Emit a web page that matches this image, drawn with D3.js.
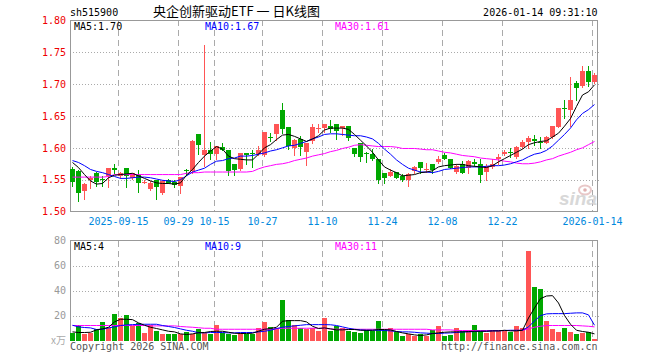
<!DOCTYPE html>
<html><head><meta charset="utf-8">
<script src="https://cdn.jsdelivr.net/npm/d3@7/dist/d3.min.js"></script>
<style>
body{margin:0;background:#fff}
svg text{font-family:"DejaVu Sans Mono","Liberation Mono",monospace;font-size:10px}
</style>
</head><body>
<svg id="c" width="660" height="360"></svg>
<script>
// ---------- data ----------
const code = "sh515900";
const title = "央企创新驱动ETF 一 日K线图";
const stamp = "2026-01-14 09:31:10";
const dateTickIndex = [8, 18, 24, 32, 42, 52, 62, 72, 87];
const dateTickLabel = ["2025-09-15","09-29","10-15","10-27","11-10","11-24","12-08","12-22","2026-01-14"];
const priceTicks = [1.50,1.55,1.60,1.65,1.70,1.75,1.80];
const volTicks = [20,40,60,80];

const open = [1.567,1.563,1.532,1.549,1.560,1.551,1.556,1.569,1.556,1.569,
1.553,1.558,1.545,1.535,1.549,1.529,1.549,1.546,1.540,1.565,
1.564,1.621,1.588,1.597,1.590,1.602,1.596,1.575,1.567,1.592,
1.592,1.591,1.588,1.617,1.621,1.660,1.632,1.600,1.614,1.593,
1.611,1.630,1.631,1.635,1.638,1.631,1.635,1.600,1.608,1.592,
1.590,1.583,1.560,1.556,1.562,1.556,1.549,1.564,1.578,1.565,
1.574,1.578,1.589,1.583,1.562,1.574,1.569,1.578,1.575,1.562,
1.570,1.582,1.590,1.593,1.586,1.602,1.609,1.614,1.609,1.608,
1.617,1.633,1.662,1.660,1.702,1.697,1.721,1.703];
const high = [1.570,1.565,1.545,1.555,1.562,1.556,1.569,1.574,1.562,1.569,
1.561,1.565,1.549,1.548,1.549,1.550,1.551,1.550,1.554,1.566,
1.613,1.621,1.761,1.609,1.603,1.607,1.596,1.575,1.592,1.592,
1.596,1.603,1.625,1.623,1.638,1.671,1.632,1.614,1.618,1.608,
1.638,1.638,1.638,1.643,1.638,1.635,1.635,1.600,1.608,1.594,
1.598,1.583,1.560,1.567,1.562,1.559,1.561,1.571,1.578,1.576,
1.574,1.587,1.592,1.583,1.574,1.579,1.581,1.582,1.582,1.575,
1.582,1.591,1.597,1.599,1.603,1.613,1.619,1.620,1.617,1.618,
1.635,1.662,1.675,1.712,1.705,1.728,1.728,1.718];
const low = [1.540,1.517,1.519,1.537,1.540,1.540,1.539,1.561,1.553,1.539,
1.551,1.530,1.544,1.534,1.520,1.527,1.544,1.539,1.529,1.558,
1.561,1.590,1.571,1.582,1.582,1.596,1.558,1.558,1.565,1.574,
1.570,1.589,1.587,1.610,1.613,1.623,1.598,1.588,1.588,1.573,
1.608,1.625,1.625,1.625,1.614,1.620,1.613,1.587,1.579,1.577,
1.581,1.544,1.544,1.555,1.553,1.548,1.540,1.560,1.561,1.562,
1.561,1.576,1.583,1.568,1.560,1.560,1.560,1.572,1.546,1.549,
1.569,1.575,1.588,1.585,1.584,1.600,1.600,1.605,1.600,1.607,
1.616,1.632,1.647,1.635,1.675,1.696,1.697,1.702];
const close = [1.546,1.529,1.543,1.552,1.546,1.549,1.569,1.565,1.561,1.555,
1.560,1.545,1.547,1.544,1.539,1.548,1.545,1.541,1.554,1.564,
1.610,1.604,1.597,1.590,1.603,1.596,1.564,1.565,1.592,1.588,
1.591,1.597,1.625,1.616,1.638,1.629,1.603,1.613,1.601,1.608,
1.632,1.631,1.638,1.630,1.626,1.634,1.616,1.590,1.586,1.591,
1.582,1.549,1.552,1.562,1.553,1.549,1.559,1.570,1.569,1.566,
1.565,1.582,1.583,1.569,1.572,1.560,1.579,1.574,1.557,1.572,
1.575,1.586,1.594,1.592,1.602,1.609,1.615,1.610,1.608,1.617,
1.634,1.662,1.661,1.675,1.694,1.721,1.703,1.715];
const ma5 = [1.577,1.569,1.558,1.548,1.543,1.544,1.553,1.557,1.558,1.559,
1.560,1.556,1.552,1.548,1.545,1.544,1.544,1.543,1.545,1.557,
1.566,1.577,1.587,1.595,1.602,1.598,1.587,1.583,1.582,1.581,
1.581,1.590,1.600,1.605,1.613,1.620,1.621,1.618,1.614,1.610,
1.614,1.619,1.628,1.631,1.631,1.631,1.629,1.621,1.612,1.603,
1.593,1.581,1.570,1.565,1.561,1.556,1.557,1.558,1.561,1.562,
1.564,1.570,1.572,1.573,1.574,1.574,1.572,1.571,1.570,1.569,
1.572,1.578,1.583,1.588,1.593,1.598,1.605,1.608,1.610,1.611,
1.617,1.623,1.634,1.646,1.665,1.683,1.688,1.699];
const ma10 = [1.580,1.577,1.572,1.566,1.563,1.561,1.558,1.555,1.552,1.552,
1.553,1.554,1.554,1.553,1.551,1.549,1.548,1.547,1.550,1.556,
1.562,1.565,1.568,1.574,1.579,1.580,1.583,1.584,1.587,1.587,
1.588,1.590,1.592,1.595,1.597,1.600,1.603,1.604,1.607,1.610,
1.614,1.617,1.621,1.622,1.622,1.621,1.620,1.619,1.619,1.617,
1.614,1.607,1.598,1.590,1.581,1.574,1.568,1.565,1.562,1.562,
1.561,1.563,1.566,1.567,1.568,1.569,1.570,1.570,1.570,1.571,
1.572,1.572,1.573,1.575,1.578,1.581,1.586,1.590,1.592,1.596,
1.603,1.612,1.621,1.631,1.644,1.654,1.660,1.668];
const ma30 = [1.554,1.554,1.554,1.554,1.554,1.554,1.555,1.558,1.558,1.558,
1.558,1.558,1.558,1.558,1.558,1.558,1.558,1.558,1.558,1.560,
1.561,1.561,1.562,1.562,1.562,1.562,1.562,1.562,1.562,1.562,
1.563,1.567,1.570,1.572,1.574,1.575,1.577,1.580,1.582,1.584,
1.587,1.589,1.591,1.594,1.596,1.599,1.601,1.604,1.605,1.604,
1.603,1.602,1.602,1.602,1.601,1.599,1.599,1.599,1.598,1.597,
1.597,1.595,1.593,1.592,1.590,1.588,1.587,1.586,1.584,1.583,
1.582,1.581,1.579,1.578,1.576,1.575,1.575,1.576,1.578,1.581,
1.583,1.587,1.590,1.593,1.597,1.600,1.605,1.610];
const volume = [6.1,12.2,5,6.1,9.6,14.6,10.4,21,18,20.2,
11.7,14,5.8,12.2,7.7,5,5,5,5,6.9,
5,9.3,6.1,5,12.2,6.1,5,4.2,6.1,5,
5,10.1,14.6,10.6,10.1,32.2,16.2,12.2,10.1,9.3,
10.1,7.7,18.1,7.6,11.7,10.4,7.4,6.6,5.9,8.2,
7.4,15.4,8.2,10.4,6.6,3.5,5,3.5,5,3.5,
8.8,11.4,3.5,4.3,9.8,7.4,8.2,12.2,7.4,5.9,
7.4,7.4,7.4,6.6,11.4,9.8,71.3,42.5,41,15.4,
9,6.6,9.8,6.6,5,5.9,6.6,1.1];
const vma5 = [6.9,6.4,6.4,6.6,8.5,9.3,10.6,14.9,17,17,
16.7,14.1,12.2,10.6,9.6,8.5,7.4,6.9,5.3,4.8,
5.3,6.2,6.4,7.2,7.4,7.4,6.6,5.8,5.6,5.6,
5.8,7.4,9,9.6,10.6,15.4,15.9,15.9,15.9,14.9,
11.4,9.6,10.1,9.3,8.5,8.5,8.8,8.8,8.2,8.2,
8.2,8.8,8.8,8.5,7.2,6.1,5.3,4.5,4,4.5,
5.6,6.1,6.6,6.9,6.9,6.9,7.2,7.4,7.4,7.4,
7.7,7.7,8.2,7.7,7.7,8.2,18,26,33.5,35.6,
35.9,30,20,13,8.2,7.2,6.6,5.3];
const vma10 = [12.2,10.9,10.4,10.1,8.8,9,10.1,10.9,12,12.5,
12.7,13,13,13,13,12,11.2,10.4,9.3,8.2,
7.4,6.2,6.1,6.4,6.4,6.4,6.1,6.1,6.4,6.4,
6.4,6.9,7.4,8.2,9.6,10.6,11.2,11.7,12.2,12.7,
12.7,12.7,12.7,12.6,12,10.9,9.8,9,8.5,8.2,
8.2,8.2,8,7.7,7.2,6.9,6.9,6.6,6.1,5.9,
5.6,5.6,5.9,6.1,6.4,6.9,6.9,7.2,7.4,7.4,
7.7,7.7,8,8.2,8.2,8.2,10.9,15.7,19.9,21.3,
21.5,21.5,21.5,21.8,22.1,22.1,20.5,12.2];
const vma30 = [12,12,12,12,12,12,12,12,12,12,
12,12,12,11.7,11.7,11.7,11.7,11.7,11.2,10.9,
10.6,10.2,9.8,9.8,9,9,9,9,9,9,
9,9,9,9,9.3,9.8,9.8,9.8,9.8,9.8,
9.8,9.8,9.8,9.2,9,9,9,9,9,9,
9,9,9,9,9,9,9,9,9,9,
8.5,8.5,8.5,8.5,8,8,8,8,8,8,
8,8,8,8,8,8.2,9.3,10.6,11.4,12,
12,12,12,12,12,11.7,11.4,10.9];
const maLabels = ["MA5:1.70","MA10:1.67","MA30:1.61"];
const vmaLabels = ["MA5:4","MA10:9","MA30:11"];

// ---------- drawing ----------
const RED = "#ff5555", GREEN = "#00a800";
const svg = d3.select("#c");
const N = close.length;
const L = 70, R = 597.5;
const x = d3.scaleBand().domain(d3.range(N)).range([L, L + 6 * N]).padding(0);
const y = d3.scaleLinear().domain([1.50, 1.80]).range([211.5, 20.5]);
const yv = d3.scaleLinear().domain([0, 80]).range([340.5, 240.5]);
const cx = i => x(i) + 2.5;

const g = svg.append("g").attr("shape-rendering", "crispEdges");

// horizontal dotted grids
g.selectAll(".hg").data(priceTicks.filter(d => d > 1.5 && d < 1.8)).join("line")
  .attr("x1", L).attr("x2", R + 1).attr("y1", d => Math.round(y(d)) + 0.5).attr("y2", d => Math.round(y(d)) + 0.5)
  .attr("stroke", "#aaa").attr("stroke-dasharray", "1,2");
g.selectAll(".hgv").data(volTicks.filter(d => d < 80)).join("line")
  .attr("x1", L).attr("x2", R + 1).attr("y1", d => Math.round(yv(d)) + 0.5).attr("y2", d => Math.round(yv(d)) + 0.5)
  .attr("stroke", "#aaa").attr("stroke-dasharray", "1,2");

// vertical dashed grids
dateTickIndex.forEach(i => {
  const xx = x(i) + 0.5;
  g.append("line").attr("x1", xx).attr("x2", xx).attr("y1", 20).attr("y2", 212)
    .attr("stroke", "#aaa").attr("stroke-dasharray", "6,4");
  g.append("line").attr("x1", xx).attr("x2", xx).attr("y1", 241).attr("y2", 341)
    .attr("stroke", "#aaa").attr("stroke-dasharray", "6,4");
});

// frames
const frame = "#999";
g.append("path").attr("d", `M${L + 0.5},20.5H${R}V211.5H${L + 0.5}Z`).attr("fill", "none").attr("stroke", frame);
g.append("path").attr("d", `M${L + 0.5},341V240.5H${R}V341`).attr("fill", "none").attr("stroke", frame);

// watermark
const wm = svg.append("g");
wm.append("ellipse").attr("cx", 585).attr("cy", 190).attr("rx", 6).attr("ry", 4.5)
  .attr("fill", "none").attr("stroke", "#e8c8c8").attr("stroke-width", 2);
wm.append("circle").attr("cx", 585).attr("cy", 190).attr("r", 1.8).attr("fill", "#e0b0b0");
wm.append("text").attr("x", 597).attr("y", 205).attr("text-anchor", "end")
  .style("font-family", "Liberation Sans, Arial, sans-serif").style("font-size", "19px")
  .style("font-style", "italic").style("font-weight", "bold").attr("fill", "#d8d8d8").text("sina");

// price MA lines
const lineP = arr => d3.line().x((d, i) => cx(i)).y(d => y(d))(arr);
[[ma30, "#ff00ff"], [ma10, "#0000ff"], [ma5, "#000"]].forEach(([arr, col]) => {
  svg.append("path").attr("d", lineP(arr)).attr("fill", "none").attr("stroke", col).attr("stroke-width", 1);
});

// candles
const cg = g.append("g");
d3.range(N).forEach(i => {
  const up = close[i] >= open[i];
  const col = up ? RED : GREEN;
  const xi = x(i);
  cg.append("line").attr("x1", xi + 2.5).attr("x2", xi + 2.5)
    .attr("y1", Math.round(y(high[i]))).attr("y2", Math.round(y(low[i])) + 1).attr("stroke", col);
  const t = Math.round(y(Math.max(open[i], close[i])));
  const b = Math.round(y(Math.min(open[i], close[i])));
  cg.append("rect").attr("x", xi).attr("y", t).attr("width", 5).attr("height", Math.max(1, b - t)).attr("fill", col);
});

// volume bars
g.append("g").selectAll("rect").data(volume).join("rect")
  .attr("x", (d, i) => x(i)).attr("width", 5)
  .attr("y", d => Math.round(yv(d))).attr("height", d => 341 - Math.round(yv(d)))
  .attr("fill", (d, i) => close[i] >= open[i] ? RED : GREEN);

// volume MA lines
const lineV = arr => d3.line().x((d, i) => cx(i)).y(d => yv(d))(arr);
[[vma30, "#ff00ff"], [vma10, "#0000ff"], [vma5, "#000"]].forEach(([arr, col]) => {
  svg.append("path").attr("d", lineV(arr)).attr("fill", "none").attr("stroke", col).attr("stroke-width", 1);
});

// axes (labels only)
const ay = svg.append("g").attr("transform", `translate(${L},0)`)
  .call(d3.axisLeft(y).tickValues(priceTicks).tickFormat(d3.format(".2f")).tickSize(0).tickPadding(4));
ay.select(".domain").remove();
ay.selectAll("text").attr("fill", "#ee0000").style("font-size", "10px");

const av = svg.append("g").attr("transform", `translate(${L},0)`)
  .call(d3.axisLeft(yv).tickValues(volTicks).tickFormat(d3.format("d")).tickSize(0).tickPadding(4));
av.select(".domain").remove();
av.selectAll("text").attr("fill", "#999").style("font-size", "10px");

const ax = svg.append("g").attr("transform", `translate(0.5,212)`)
  .call(d3.axisBottom(x).tickValues(dateTickIndex)
    .tickFormat(d => dateTickLabel[dateTickIndex.indexOf(d)]).tickSize(0).tickPadding(6));
ax.select(".domain").remove();
ax.selectAll(".tick").attr("transform", d => `translate(${x(d)},0)`);
ax.selectAll("text").attr("fill", "#0088dd").style("font-size", "10px");

// texts
svg.append("text").attr("x", L).attr("y", 16).attr("fill", "#000").text(code);
svg.append("text").attr("x", 236.5).attr("y", 16).attr("text-anchor", "middle")
  .style("font-family", "Noto Sans CJK SC").style("font-size", "13px").attr("fill", "#000").text(title);
svg.append("text").attr("x", R).attr("y", 16).attr("text-anchor", "end").attr("fill", "#000").text(stamp);

const maX = [74, 205, 335], maCol = ["#000", "#0000ff", "#ff00ff"];
maLabels.forEach((t, k) => svg.append("text").attr("x", maX[k]).attr("y", 30).attr("fill", maCol[k]).text(t));
vmaLabels.forEach((t, k) => svg.append("text").attr("x", maX[k]).attr("y", 250).attr("fill", maCol[k]).text(t));

svg.append("text").attr("x", 66).attr("y", 344).attr("text-anchor", "end").attr("fill", "#aaa").style("font-size", "10px")
  .style("font-family", "Noto Sans CJK SC").text("x万");
svg.append("text").attr("x", L).attr("y", 350).attr("fill", "#555").text("Copyright 2026 SINA.COM");
svg.append("text").attr("x", R).attr("y", 350).attr("text-anchor", "end").attr("fill", "#555").text("http://finance.sina.com.cn");
</script>
</body></html>
